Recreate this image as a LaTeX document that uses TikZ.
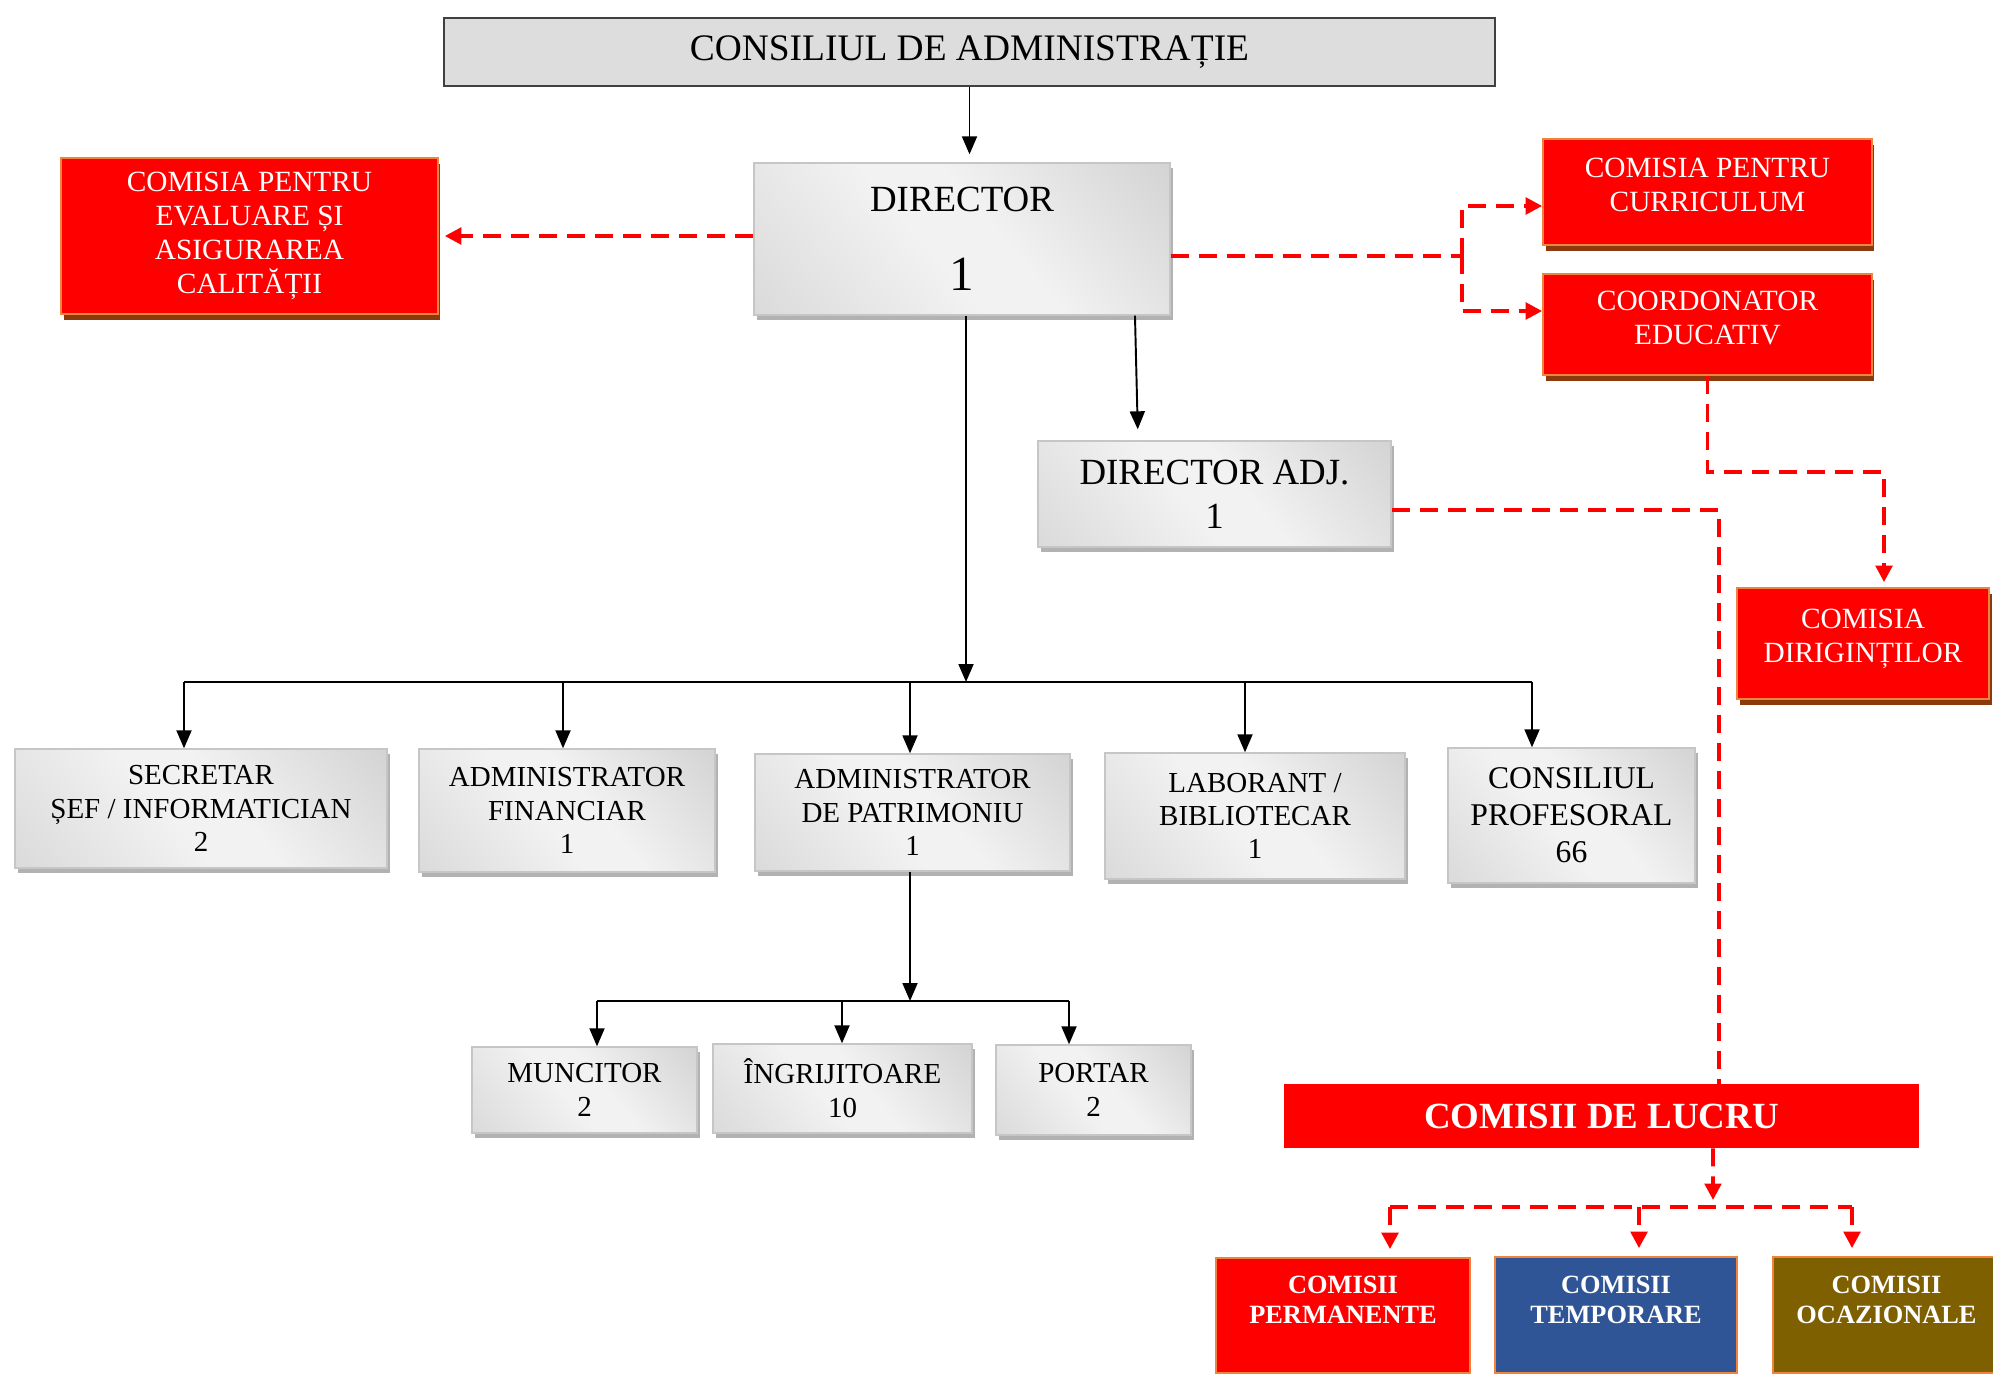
\documentclass[tikz,border=0pt]{standalone}
\usepackage{fontspec}
\setmainfont{Liberation Serif}
\usepackage{tikz}
\usetikzlibrary{arrows.meta,shadows}
\definecolor{box-red}{HTML}{FF0000}
\definecolor{box-edge}{HTML}{F0843C}
\definecolor{box-shadow}{HTML}{8B3A0E}
\definecolor{temp-blue}{HTML}{2F5597}
\definecolor{ocaz-brown}{HTML}{7F6000}
\pgfdeclarehorizontalshading{gray-shade}{100bp}{color(0bp)=(gray!38); color(45bp)=(gray!10); color(55bp)=(gray!10); color(100bp)=(gray!46)}
\tikzset{
    council-box/.style = {draw=black!75, line width=0.8pt, fill=gray!27, font=\fontsize{21.3}{25}\selectfont},
    gray-box/.style = {draw=gray!45, line width=0.8pt, shading=gray-shade, shading angle=40, align=center, inner sep=2pt,
        drop shadow={shadow xshift=0.06cm, shadow yshift=-0.1cm, fill=gray!60, opacity=1}, font=\fontsize{16.5}{19}\selectfont},
    red-box/.style = {draw=box-edge, line width=1pt, fill=box-red, text=white, align=center, inner sep=2pt,
        drop shadow={shadow xshift=0.05cm, shadow yshift=-0.12cm, fill=box-shadow, opacity=1}, font=\fontsize{16.7}{19.5}\selectfont},
    type-box/.style = {draw=box-edge, line width=1pt, text=white, align=center, text depth=0.62cm, font=\bfseries\fontsize{15}{17}\selectfont},
    solid-line/.style = {draw=black, line width=1.1pt},
    solid-arrow/.style = {solid-line, -{Triangle[length=0.36cm, width=0.3cm]}},
    red-line/.style = {draw=box-red, line width=2.2pt, dash pattern=on 0.36cm off 0.2cm},
    red-arrow/.style = {red-line, -{Triangle[length=0.33cm, width=0.33cm]}},
}

\begin{document}
\begin{tikzpicture}[x=0.02cm, y=-0.02cm]
\useasboundingbox (0,0) rectangle (1993,1373);
\node [council-box, minimum width=21.02cm, minimum height=1.36cm] (council) at (969.5,52) {CONSILIUL DE ADMINISTRAȚIE};
\node [gray-box, minimum width=8.32cm, minimum height=3.04cm, font=\fontsize{21}{25}\selectfont] (director) at (962,239) {DIRECTOR\\[20pt]{\fontsize{28}{30}\selectfont 1}};
\node [gray-box, minimum width=7.06cm, minimum height=2.12cm, font=\fontsize{21}{25}\selectfont] (adjunct) at (1214.5,494) {DIRECTOR ADJ.\\1};

\node [red-box, minimum width=7.54cm, minimum height=3.12cm] (evaluation) at (249.5,236) {COMISIA PENTRU\\EVALUARE ȘI\\ASIGURAREA\\CALITĂȚII};
\node [red-box, minimum width=6.58cm, minimum height=2.12cm, text depth=0.3cm] (curriculum) at (1707.5,192) {COMISIA PENTRU\\CURRICULUM};
\node [red-box, minimum width=6.58cm, minimum height=2.02cm, text depth=0.28cm] (coordinator) at (1707.5,324.5) {COORDONATOR\\EDUCATIV};
\node [red-box, minimum width=5.04cm, minimum height=2.22cm, text depth=0.3cm] (form-masters) at (1863,643.5) {COMISIA\\DIRIGINȚILOR};

\node [gray-box, minimum width=7.44cm, minimum height=2.38cm] (secretary) at (201,808.5) {SECRETAR\\ȘEF / INFORMATICIAN\\2};
\node [gray-box, minimum width=5.92cm, minimum height=2.46cm] (finance) at (567,810.5) {ADMINISTRATOR\\FINANCIAR\\1};
\node [gray-box, minimum width=6.3cm, minimum height=2.34cm] (patrimony) at (912.5,812.5) {ADMINISTRATOR\\DE PATRIMONIU\\1};
\node [gray-box, minimum width=6.0cm, minimum height=2.52cm] (laboratory) at (1255,816) {LABORANT /\\BIBLIOTECAR\\1};
\node [gray-box, minimum width=4.94cm, minimum height=2.7cm, font=\fontsize{18}{21}\selectfont] (teachers) at (1571.5,815.5) {CONSILIUL\\PROFESORAL\\66};

\node [gray-box, minimum width=4.5cm, minimum height=1.72cm, font=\fontsize{16.5}{19.5}\selectfont] (worker) at (584.5,1090) {MUNCITOR\\2};
\node [gray-box, minimum width=5.18cm, minimum height=1.78cm, font=\fontsize{16.5}{19.5}\selectfont] (cleaner) at (842.5,1088.5) {ÎNGRIJITOARE\\10};
\node [gray-box, minimum width=3.9cm, minimum height=1.8cm, font=\fontsize{16.5}{19.5}\selectfont] (porter) at (1093.5,1090) {PORTAR\\2};

\node [fill=box-red, text=white, minimum width=12.7cm, minimum height=1.28cm, font=\bfseries\fontsize{21}{25}\selectfont] (working) at (1601.5,1116) {COMISII DE LUCRU};
\node [type-box, fill=box-red, minimum width=5.08cm, minimum height=2.3cm] (permanent) at (1343,1315.5) {COMISII\\PERMANENTE};
\node [type-box, fill=temp-blue, minimum width=4.84cm, minimum height=2.32cm] (temporary) at (1616,1315) {COMISII\\TEMPORARE};
\node [type-box, fill=ocaz-brown, minimum width=4.54cm, minimum height=2.32cm] (occasional) at (1886.5,1315) {COMISII\\OCAZIONALE};

\coordinate (hub) at (966,682);
\coordinate (b1) at (184,682);
\coordinate (b2) at (563,682);
\coordinate (b3) at (910,682);
\coordinate (b4) at (1245,682);
\coordinate (b5) at (1532,682);
\coordinate (sub) at (910,1001);
\coordinate (s1) at (597,1001);
\coordinate (s2) at (842,1001);
\coordinate (s3) at (1069,1001);
\coordinate (split) at (1462,256);
\coordinate (fork) at (1713,1207);
\coordinate (t1) at (1390,1207);
\coordinate (t2) at (1639,1207);
\coordinate (t3) at (1852,1207);

\draw [solid-arrow, shorten >=0.16cm] (council.south) -- (council.south |- director.north);
\draw [solid-arrow, shorten >=0.22cm] ([xshift=3.46cm]director.south) -- ([xshift=-1.53cm]adjunct.north);
\draw [solid-arrow] (director.south -| hub) -- (hub);
\draw [solid-line] (b1) -- (b5);
\foreach \p/\n in {b1/secretary, b2/finance, b3/patrimony, b4/laboratory, b5/teachers}
    \draw [solid-arrow] (\p) -- (\p |- \n.north);
\draw [solid-arrow] (patrimony.south -| sub) -- (sub);
\draw [solid-line] (s1) -- (s3);
\foreach \p/\n in {s1/worker, s2/cleaner, s3/porter}
    \draw [solid-arrow] (\p) -- (\p |- \n.north);

\draw [red-arrow, shorten >=0.12cm] (evaluation.east -| director.west) -- (evaluation.east);
\draw [red-line] (director.east |- split) -- (split);
\draw [red-arrow] (split) |- ([yshift=-0.28cm]curriculum.west);
\draw [red-arrow] (split) |- ([yshift=0.27cm]coordinator.west);
\draw [red-arrow, shorten >=0.1cm] (coordinator.south) -- ++(0,96) -| ([xshift=0.42cm]form-masters.north);
\draw [red-line] ([yshift=-0.32cm]adjunct.east) -| ([xshift=2.35cm]working.north);
\draw [red-arrow, shorten >=0.14cm] ([xshift=2.23cm]working.south) -- (fork);
\draw [red-line] (t1) -- (t3);
\foreach \p/\n in {t1/permanent, t2/temporary, t3/occasional}
    \draw [red-arrow, shorten >=0.16cm] (\p) -- (\p |- \n.north);
\end{tikzpicture}
\end{document}
